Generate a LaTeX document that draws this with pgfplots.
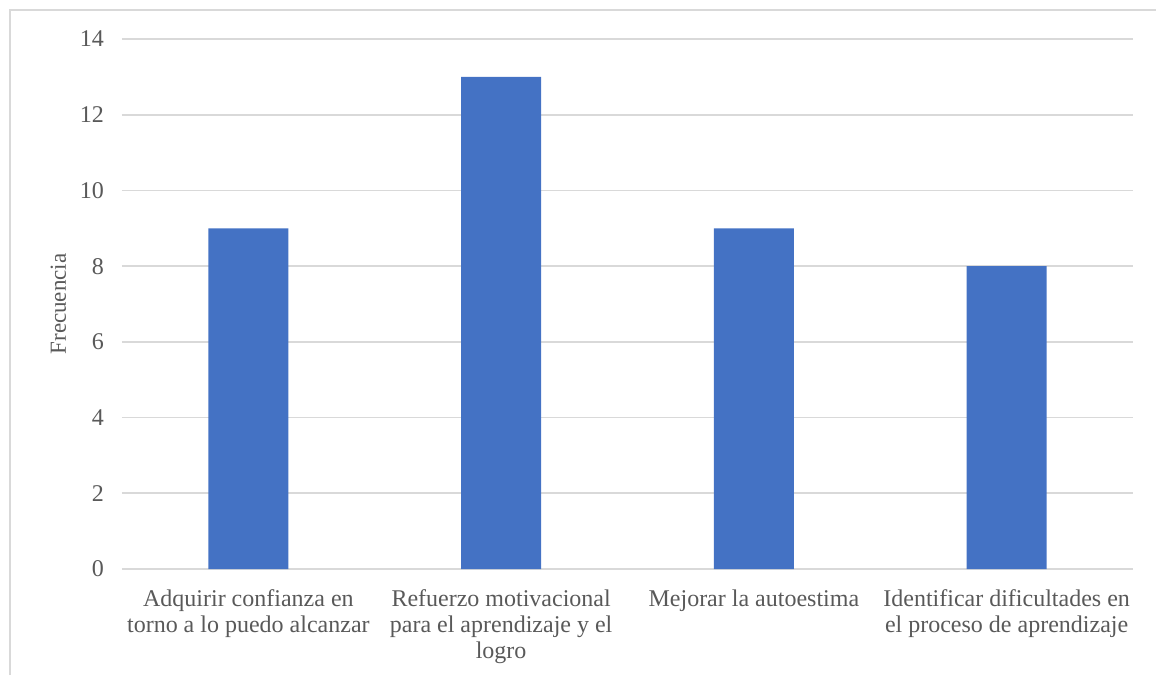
\documentclass[border=0pt]{standalone}
\usepackage{pgfplots}
\pgfplotsset{compat=1.18}
\usepackage{fontspec}
\setmainfont{Liberation Serif}
\definecolor{barblue}{HTML}{4472C4}
\definecolor{gridgray}{HTML}{D9D9D9}
\definecolor{textgray}{HTML}{595959}
\begin{document}
\begin{tikzpicture}[font=\rmfamily]
\useasboundingbox (-61pt,-53pt) rectangle (517pt,284.5pt);
\draw[gridgray, line width=0.8pt] (-56pt,-53pt) -- (-56pt,279.5pt) -- (517pt,279.5pt);
\begin{axis}[
  at={(0,0)}, anchor=south west,
  scale only axis,
  width=505.5pt, height=265pt,
  xmin=-0.5, xmax=3.5,
  ymin=0, ymax=14,
  ytick={0,2,...,14},
  xtick={0,1,2,3},
  xticklabels={{Adquirir confianza en\\torno a lo puedo alcanzar},{Refuerzo motivacional\\para el aprendizaje y el\\logro},{Mejorar la autoestima},{Identificar dificultades en\\el proceso de aprendizaje}},
  xticklabel style={align=center, font=\rmfamily\fontsize{12}{13}\selectfont, text=textgray, anchor=north, yshift=-7pt},
  yticklabel style={font=\rmfamily\fontsize{12}{13}\selectfont, text=textgray, xshift=-5.5pt},
  /pgf/number format/assume math mode=true,
  major tick length=0pt,
  axis line style={draw=none},
  ymajorgrids,
  grid style={gridgray, line width=0.8pt},
  ylabel={Frecuencia},
  every axis y label/.style={at={(ticklabel cs:0.5)}, rotate=90, anchor=south, xshift=0pt,
    font=\rmfamily\fontsize{11.5}{13}\selectfont, text=textgray},
  ybar, bar width=40pt,
  clip=false,
]
\addplot[fill=barblue, draw=none] coordinates {(0,9) (1,13) (2,9) (3,8)};
\end{axis}
\end{tikzpicture}
\end{document}
